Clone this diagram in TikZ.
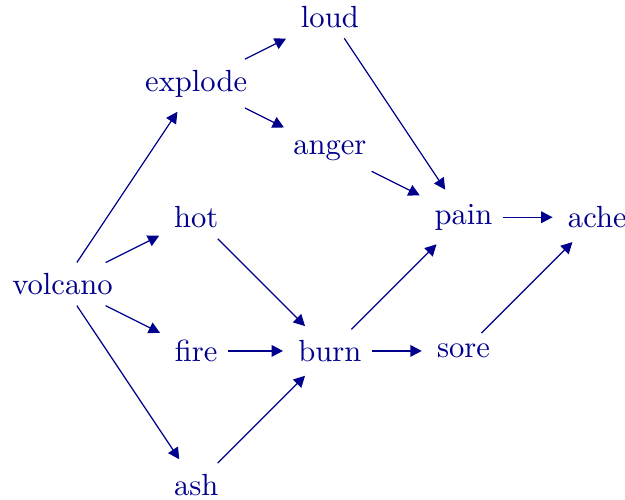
\documentclass[tikz,border=0pt]{standalone}
\usetikzlibrary{arrows.meta}

\colorlet{wordcol}{blue!55!black}

\begin{document}
\begin{tikzpicture}[
    x=0.768cm, y=0.768cm,
    word/.style={text=wordcol},
    arr/.style={-{Triangle[length=3.7pt,width=3.8pt]}, draw=wordcol, fill=wordcol,
                line width=0.4pt, shorten >=1.5pt}
  ]
    \useasboundingbox (-0.935,-3.216) rectangle (8.415,4.250);

    \node[word] (volcano) at (0,0)  {volcano};
    \node[word] (explode) at (2,3)  {explode};
    \node[word] (hot)     at (2,1)  {hot};
    \node[word] (fire)    at (2,-1) {fire};
    \node[word] (ash)     at (2,-3) {ash};
    \node[word] (loud)    at (4,4)  {loud};
    \node[word] (anger)   at (4,2)  {anger};
    \node[word] (burn)    at (4,-1) {burn};
    \node[word] (pain)    at (6,1)  {pain};
    \node[word] (sore)    at (6,-1) {sore};
    \node[word] (ache)    at (8,1)  {ache};

    \draw[arr] (volcano) -- (explode);
    \draw[arr] (volcano) -- (hot);
    \draw[arr] (volcano) -- (fire);
    \draw[arr] (volcano) -- (ash);
    \draw[arr] (explode) -- (loud);
    \draw[arr] (explode) -- (anger);
    \draw[arr] (hot)     -- (burn);
    \draw[arr] (fire)    -- (burn);
    \draw[arr] (ash)     -- (burn);
    \draw[arr] (loud)    -- (pain);
    \draw[arr] (anger)   -- (pain);
    \draw[arr] (burn)    -- (pain);
    \draw[arr] (burn)    -- (sore);
    \draw[arr] (pain)    -- (ache);
    \draw[arr] (sore)    -- (ache);
  \end{tikzpicture}
\end{document}
